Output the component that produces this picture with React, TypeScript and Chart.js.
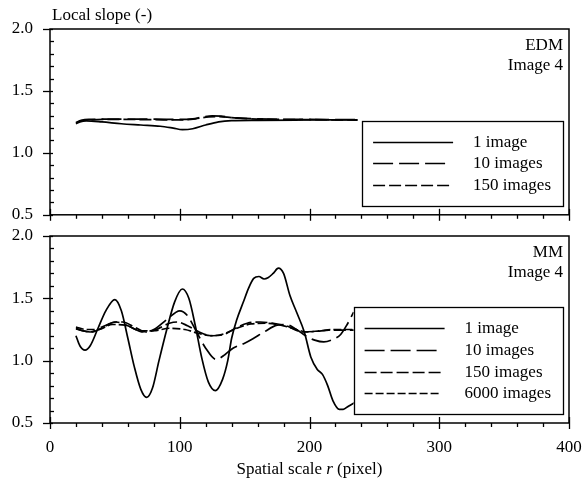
import React, { useEffect, useRef } from 'react';
import { Chart, registerables } from 'chart.js';

Chart.register(...registerables);

const FONT_FAMILY = '"Liberation Serif", "Times New Roman", Times, serif';
const FONT_SIZE = 17;

// ---- axis ticks ----
const xTickValues = [0, 100, 200, 300, 400];
const yTickValues = [0.5, 1.0, 1.5, 2.0];
const xMinorStep = 20;
const yMinorStep = 0.1;

// ---- EDM panel (top) ----
const edm1X = [20, 23, 28, 40, 55, 70, 85, 95, 102, 110, 120, 130, 140, 160, 190, 215, 237];
const edm1Y = [1.235, 1.25, 1.258, 1.25, 1.235, 1.225, 1.215, 1.2, 1.188, 1.195, 1.225, 1.25, 1.26, 1.263, 1.265, 1.266, 1.265];
const edm10X = [20, 24, 30, 50, 80, 100, 110, 118, 125, 132, 140, 150, 170, 200, 237];
const edm10Y = [1.245, 1.262, 1.27, 1.272, 1.272, 1.27, 1.275, 1.29, 1.298, 1.296, 1.285, 1.278, 1.272, 1.27, 1.268];
const edm150X = [20, 24, 30, 50, 80, 100, 112, 122, 130, 140, 155, 175, 200, 237];
const edm150Y = [1.24, 1.258, 1.266, 1.27, 1.268, 1.266, 1.275, 1.29, 1.292, 1.285, 1.275, 1.27, 1.268, 1.266];

// ---- MM panel (bottom) ----
const mm1X = [20, 23, 27, 31, 37, 43, 50, 55, 60, 65, 70, 74.5, 79, 84, 90, 96, 102, 107, 112, 117, 122, 127.5, 133, 137, 140, 144, 149, 153, 157, 161, 165, 168, 172, 176, 180, 185, 190, 196, 201, 206, 210, 214, 218, 223, 226, 230, 235];
const mm1Y = [1.2, 1.12, 1.085, 1.12, 1.26, 1.4, 1.49, 1.4, 1.18, 0.95, 0.77, 0.705, 0.78, 1.0, 1.25, 1.47, 1.575, 1.5, 1.28, 1.02, 0.83, 0.76, 0.85, 1.0, 1.18, 1.33, 1.47, 1.58, 1.66, 1.675, 1.655, 1.665, 1.7, 1.742, 1.7, 1.52, 1.39, 1.23, 1.03, 0.93, 0.89, 0.8, 0.68, 0.61, 0.61, 0.635, 0.665];
const mm10X = [20, 25, 31, 40, 51, 60, 72, 80, 90, 100, 106, 113, 120, 128, 135, 141, 150, 157, 165, 175, 182, 190, 197, 204, 211, 218, 224, 229, 234];
const mm10Y = [1.255, 1.24, 1.23, 1.27, 1.31, 1.28, 1.23, 1.25, 1.33, 1.4, 1.36, 1.23, 1.1, 1.01, 1.05, 1.1, 1.14, 1.18, 1.23, 1.285, 1.29, 1.25, 1.2, 1.165, 1.15, 1.17, 1.21, 1.29, 1.39];
const mm150X = [20, 25, 32, 40, 50, 56, 65, 74, 82, 92, 98, 106, 115, 125, 134, 143, 152, 162, 172, 182, 195, 205, 215, 225, 235];
const mm150Y = [1.26, 1.24, 1.23, 1.26, 1.31, 1.31, 1.27, 1.23, 1.25, 1.3, 1.31, 1.28, 1.23, 1.2, 1.21, 1.26, 1.3, 1.31, 1.3, 1.28, 1.23, 1.235, 1.245, 1.245, 1.245];
const mm6000X = [20, 28, 37, 48, 58, 70, 80, 92, 104, 114, 124, 134, 144, 155, 166, 178, 190, 198, 208, 220, 235];
const mm6000Y = [1.27, 1.25, 1.25, 1.29, 1.285, 1.24, 1.24, 1.26, 1.25, 1.22, 1.2, 1.215, 1.26, 1.295, 1.3, 1.285, 1.25, 1.23, 1.24, 1.25, 1.25];

const seriesLabels = ['1 image', '10 images', '150 images', '6000 images'];
const dashes: number[][] = [[], [20, 6], [12, 4], [8, 3]];

type Series = { label: string; xs: number[]; ys: number[]; dash: number[] };

const edmSeries: Series[] = [
  { label: seriesLabels[0], xs: edm1X, ys: edm1Y, dash: dashes[0] },
  { label: seriesLabels[1], xs: edm10X, ys: edm10Y, dash: dashes[1] },
  { label: seriesLabels[2], xs: edm150X, ys: edm150Y, dash: dashes[2] },
];
const mmSeries: Series[] = [
  { label: seriesLabels[0], xs: mm1X, ys: mm1Y, dash: dashes[0] },
  { label: seriesLabels[1], xs: mm10X, ys: mm10Y, dash: dashes[1] },
  { label: seriesLabels[2], xs: mm150X, ys: mm150Y, dash: dashes[2] },
  { label: seriesLabels[3], xs: mm6000X, ys: mm6000Y, dash: dashes[3] },
];

type PanelProps = {
  series: Series[];
  tags: string[];
  top: number;
  height: number;
  padTop: number;
  xAxisHeight: number;
  showXLabels: boolean;
  yTitle?: string;
  xTitle?: boolean;
};

const font = (style = 'normal') => `${style} ${FONT_SIZE}px ${FONT_FAMILY}`;

function sampleLength(dash: number[], maxLen: number) {
  if (!dash.length) return maxLen;
  const [d, g] = dash;
  const k = Math.floor((maxLen - d) / (d + g));
  return k * (d + g) + d;
}

const hiddenGrid = (tickLength: number) => ({
  display: true,
  drawOnChartArea: false,
  drawTicks: true,
  tickLength,
  color: 'rgba(0,0,0,0)',
  tickColor: 'rgba(0,0,0,0)',
});

function Panel(props: PanelProps) {
  const ref = useRef<HTMLCanvasElement | null>(null);

  useEffect(() => {
    const canvas = ref.current;
    if (!canvas) return;

    const panelPlugin = {
      id: 'panelDecor',
      afterDraw(chart: any) {
        const ctx: CanvasRenderingContext2D = chart.ctx;
        const { left, right, top, bottom } = chart.chartArea;
        const xs = chart.scales.x;
        const ys = chart.scales.y;
        ctx.save();
        ctx.strokeStyle = '#000';
        ctx.fillStyle = '#000';
        ctx.lineWidth = 1.5;
        ctx.setLineDash([]);
        ctx.strokeRect(left, top, right - left, bottom - top);

        // x ticks
        for (let v = xs.min; v <= xs.max + 1e-9; v += xMinorStep) {
          const px = Math.round(xs.getPixelForValue(v)) + 0.5;
          const major = xTickValues.includes(v);
          ctx.beginPath();
          ctx.moveTo(px, major ? bottom - 6 : bottom);
          ctx.lineTo(px, major ? bottom + 6 : bottom + 4);
          ctx.lineWidth = 1.3;
          ctx.stroke();
        }
        // y ticks
        for (let i = 0; i <= Math.round((ys.max - ys.min) / yMinorStep); i++) {
          const v = ys.min + i * yMinorStep;
          const py = Math.round(ys.getPixelForValue(v)) + 0.5;
          const major = yTickValues.some((t) => Math.abs(t - v) < 1e-6);
          ctx.beginPath();
          ctx.moveTo(major ? left - 7 : left, py);
          ctx.lineTo(major ? left + 3 : left + 4, py);
          ctx.lineWidth = 1.3;
          ctx.stroke();
        }

        // panel tags
        ctx.font = font();
        ctx.textAlign = 'right';
        ctx.textBaseline = 'alphabetic';
        props.tags.forEach((t, i) => ctx.fillText(t, right - 6, top + 21 + i * 20));

        // legend
        const ds = chart.data.datasets;
        const n = ds.length;
        ctx.font = font();
        const maxW = Math.max(...ds.map((d: any) => ctx.measureText(d.label).width));
        const boxW = 111 + maxW + 12;
        const boxH = 20 + 21.7 * n;
        const boxR = right - 6;
        const boxB = bottom - 9;
        const boxL = boxR - boxW;
        const boxT = boxB - boxH;
        ctx.fillStyle = '#fff';
        ctx.fillRect(boxL, boxT, boxW, boxH);
        ctx.strokeStyle = '#000';
        ctx.lineWidth = 1.3;
        ctx.strokeRect(Math.round(boxL) + 0.5, Math.round(boxT) + 0.5, Math.round(boxW), Math.round(boxH));
        ds.forEach((d: any, i: number) => {
          const y = Math.round(boxT + 21 + i * 21.7) + 0.5;
          const dash = d.borderDash || [];
          ctx.beginPath();
          ctx.setLineDash(dash);
          ctx.lineWidth = 1.7;
          ctx.moveTo(boxL + 11, y);
          ctx.lineTo(boxL + 11 + sampleLength(dash, 80), y);
          ctx.stroke();
          ctx.setLineDash([]);
          ctx.fillStyle = '#000';
          ctx.textAlign = 'left';
          ctx.textBaseline = 'middle';
          ctx.fillText(d.label, boxL + 111, y);
        });

        // y title
        if (props.yTitle) {
          ctx.font = font();
          ctx.textAlign = 'left';
          ctx.textBaseline = 'alphabetic';
          ctx.fillStyle = '#000';
          ctx.fillText(props.yTitle, left + 2, top - 9);
        }
        // x title with italic r
        if (props.xTitle) {
          const parts: [string, string][] = [['Spatial scale ', 'normal'], ['r', 'italic'], [' (pixel)', 'normal']];
          let total = 0;
          parts.forEach(([s, st]) => { ctx.font = font(st); total += ctx.measureText(s).width; });
          let x = (left + right) / 2 - total / 2;
          const y = bottom + 51;
          ctx.textAlign = 'left';
          ctx.textBaseline = 'alphabetic';
          ctx.fillStyle = '#000';
          parts.forEach(([s, st]) => { ctx.font = font(st); ctx.fillText(s, x, y); x += ctx.measureText(s).width; });
        }
        ctx.restore();
      },
    };

    const chart = new Chart(canvas, {
      type: 'line',
      data: {
        datasets: props.series.map((s) => ({
          label: s.label,
          data: s.xs.map((x, i) => ({ x, y: s.ys[i] })),
          borderColor: '#000',
          backgroundColor: '#000',
          borderWidth: 1.7,
          borderDash: s.dash,
          pointRadius: 0,
          cubicInterpolationMode: 'monotone',
          fill: false,
        })),
      },
      options: {
        animation: false,
        responsive: false,
        maintainAspectRatio: false,
        devicePixelRatio: 1,
        events: [],
        layout: { padding: { top: props.padTop, right: 13, left: 0, bottom: 0 } },
        plugins: { legend: { display: false }, tooltip: { enabled: false } },
        scales: {
          x: {
            type: 'linear',
            min: 0,
            max: 400,
            afterBuildTicks: (s: any) => { s.ticks = xTickValues.map((v) => ({ value: v })); },
            ticks: {
              display: props.showXLabels,
              font: { family: FONT_FAMILY, size: FONT_SIZE },
              color: '#000',
              padding: 0,
              maxRotation: 0,
              autoSkip: false,
            },
            grid: hiddenGrid(14),
            border: { display: false },
            afterFit: (s: any) => { s.height = props.xAxisHeight; },
          },
          y: {
            type: 'linear',
            min: 0.5,
            max: 2.0,
            afterBuildTicks: (s: any) => { s.ticks = yTickValues.map((v) => ({ value: v })); },
            ticks: {
              font: { family: FONT_FAMILY, size: FONT_SIZE },
              color: '#000',
              padding: 0,
              callback: (v: any) => Number(v).toFixed(1),
            },
            grid: hiddenGrid(17),
            border: { display: false },
            afterFit: (s: any) => { s.width = 50; },
          },
        },
      } as any,
      plugins: [panelPlugin],
    });
    return () => chart.destroy();
  }, []);

  return (
    <canvas
      ref={ref}
      width={582}
      height={props.height}
      style={{ position: 'absolute', left: 0, top: props.top, width: 582, height: props.height }}
    />
  );
}

export default function App() {
  return (
    <div style={{ position: 'absolute', left: 0, top: 0, width: 582, height: 483, background: '#fff', overflow: 'hidden' }}>
      <Panel series={edmSeries} tags={['EDM', 'Image 4']} top={0} height={225} padTop={29} xAxisHeight={9} showXLabels={false} yTitle="Local slope (-)" />
      <Panel series={mmSeries} tags={['MM', 'Image 4']} top={225} height={258} padTop={11} xAxisHeight={60} showXLabels={true} xTitle={true} />
    </div>
  );
}
